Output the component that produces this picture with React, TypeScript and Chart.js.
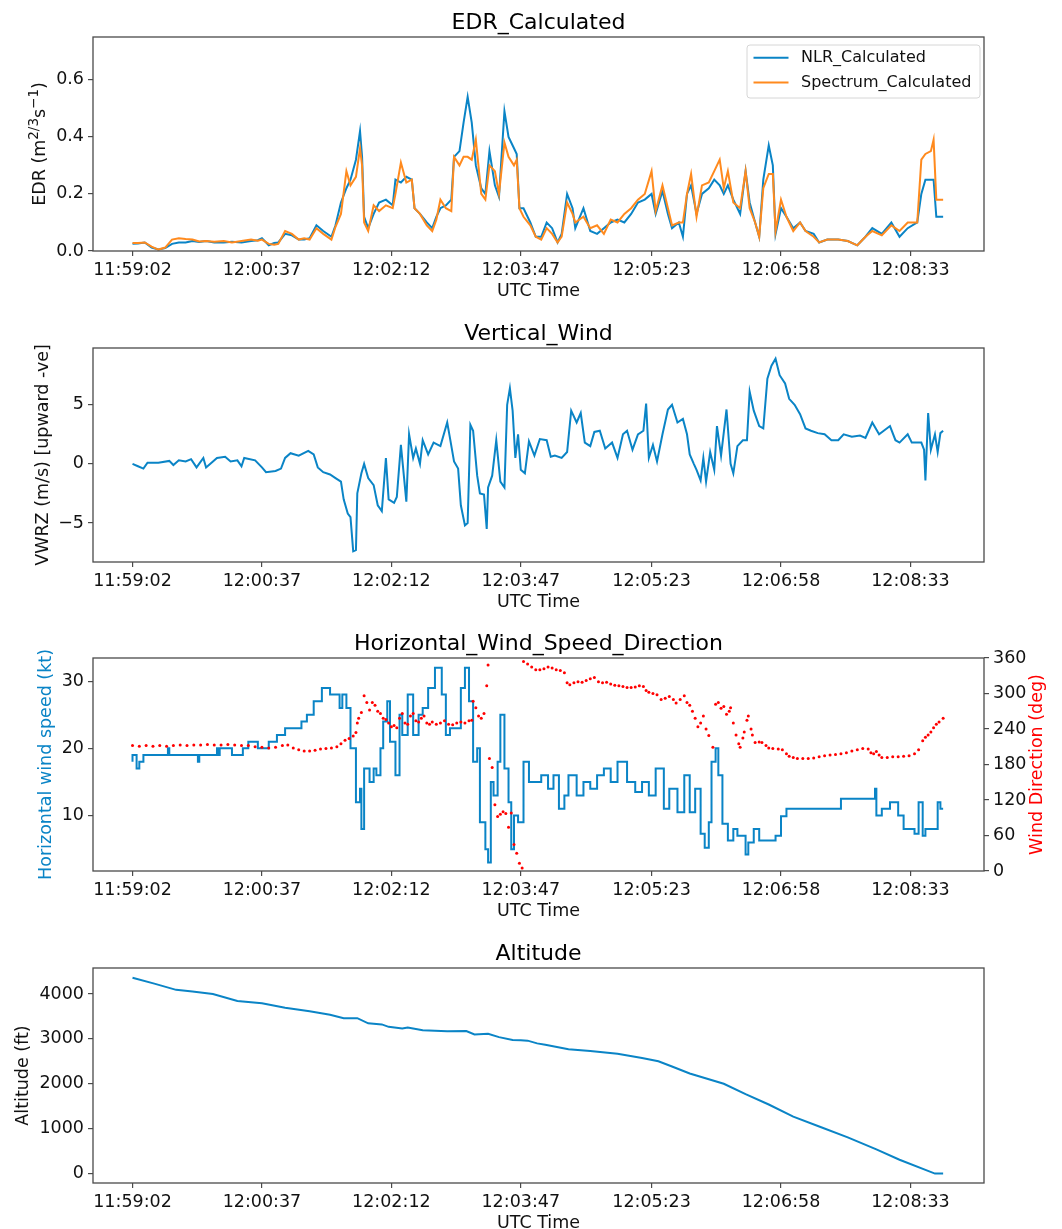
import React, { useEffect, useRef } from "react";
import { Chart, ChartConfiguration, registerables } from "chart.js";
Chart.register(...registerables);

// x axis: seconds after 11:59:02
const tickSeconds = [0, 95, 190, 285, 381, 476, 571];
const tickLabels = ["11:59:02", "12:00:37", "12:02:12", "12:03:47", "12:05:23", "12:06:58", "12:08:33"];

// EDR_Calculated
const edrTime = [
  0, 4, 9, 14, 19, 24, 29, 34, 39, 44, 49, 54, 60, 67, 73, 80, 87, 92, 95, 100, 104, 107, 112, 117, 122, 126, 130,
  135, 140, 146, 149, 153, 157, 160, 164, 167, 168.5, 170, 173, 177, 181, 186, 191, 193, 197, 201, 205, 207, 211,
  216, 220, 223, 226, 230, 234, 236, 240, 243, 246, 249, 252, 256, 259, 262, 266, 269, 273, 276, 280, 282, 284,
  287, 292, 296, 300, 304, 308, 312, 315, 319, 323, 325, 331, 336, 341, 346, 351, 356, 361, 366, 371, 376, 381,
  384, 389, 393, 396, 401, 404, 407, 410, 414, 418, 423, 427, 431, 434, 437, 441, 446, 450, 453, 457, 460, 463,
  467, 470, 472, 476, 480, 485, 490, 494, 500, 504, 510, 518, 525, 532, 538, 543, 550, 557, 563, 569, 576, 579,
  582, 586, 588, 590, 595,
];
const edrNlr = [
  0.025, 0.026, 0.03, 0.012, 0.005, 0.01, 0.025, 0.03, 0.03, 0.035, 0.032, 0.035, 0.03, 0.03, 0.032, 0.03, 0.035,
  0.038, 0.045, 0.02, 0.028, 0.03, 0.06, 0.055, 0.04, 0.04, 0.045, 0.09, 0.07, 0.05, 0.09, 0.17, 0.22, 0.25, 0.32,
  0.42, 0.33, 0.12, 0.08, 0.13, 0.17, 0.18, 0.16, 0.25, 0.24, 0.26, 0.25, 0.15, 0.13, 0.1, 0.08, 0.12, 0.15, 0.16,
  0.18, 0.33, 0.35, 0.45, 0.54, 0.45, 0.3, 0.22, 0.2, 0.35, 0.23, 0.19, 0.49, 0.4, 0.36, 0.34, 0.15, 0.15, 0.1,
  0.05, 0.05, 0.1, 0.08, 0.03, 0.06, 0.2, 0.15, 0.08, 0.15, 0.07, 0.06, 0.08, 0.1, 0.11, 0.1, 0.13, 0.17, 0.18,
  0.2, 0.13, 0.21, 0.13, 0.08, 0.1, 0.05, 0.2, 0.23, 0.13, 0.2, 0.22, 0.25, 0.23, 0.2, 0.23, 0.18, 0.13, 0.28,
  0.17, 0.1, 0.05, 0.25, 0.37, 0.3, 0.06, 0.15, 0.12, 0.08, 0.1, 0.07, 0.06, 0.03, 0.04, 0.04, 0.035, 0.02, 0.05,
  0.08, 0.06, 0.1, 0.05, 0.08, 0.1, 0.2, 0.25, 0.25, 0.25, 0.12, 0.12,
];
const edrSpectrum = [
  0.028, 0.028, 0.03, 0.015, 0.005, 0.012, 0.04, 0.045, 0.042, 0.04, 0.033, 0.035, 0.032, 0.035, 0.03, 0.035,
  0.04, 0.036, 0.04, 0.025, 0.022, 0.025, 0.07, 0.06, 0.04, 0.045, 0.04, 0.08, 0.06, 0.04, 0.085, 0.13, 0.28,
  0.23, 0.26, 0.36, 0.3, 0.1, 0.07, 0.16, 0.14, 0.16, 0.15, 0.2, 0.31, 0.24, 0.25, 0.15, 0.13, 0.09, 0.07, 0.11,
  0.18, 0.15, 0.14, 0.33, 0.3, 0.33, 0.33, 0.32, 0.39, 0.2, 0.18, 0.3, 0.28, 0.2, 0.38, 0.33, 0.3, 0.32, 0.15,
  0.12, 0.09, 0.05, 0.04, 0.08, 0.06, 0.03, 0.05, 0.17, 0.13, 0.1, 0.12, 0.08, 0.09, 0.06, 0.11, 0.1, 0.13, 0.15,
  0.18, 0.2, 0.28, 0.14, 0.23, 0.15, 0.09, 0.1, 0.1, 0.2, 0.27, 0.12, 0.23, 0.24, 0.28, 0.32, 0.22, 0.28, 0.17,
  0.15, 0.28, 0.15, 0.1, 0.05, 0.22, 0.27, 0.27, 0.07, 0.18, 0.12, 0.07, 0.1, 0.07, 0.05, 0.03, 0.04, 0.04, 0.035,
  0.02, 0.05, 0.07, 0.055, 0.09, 0.07, 0.1, 0.1, 0.32, 0.34, 0.35, 0.39, 0.18, 0.18,
];

// Vertical_Wind
const vwTime = [
  0, 4, 8, 11, 19, 27, 30, 34, 39, 43, 47, 52, 54, 62, 68, 72, 77, 80, 82, 90, 95, 98, 105, 109, 112, 116, 122,
  129, 133, 136, 140, 145, 149, 153, 155, 158, 160, 162, 164, 165, 168, 170, 173, 177, 180, 183, 186, 188, 192,
  194, 197, 201, 203, 206, 208, 211, 213, 217, 221, 226, 231, 233, 236, 239, 241, 244, 246, 248, 250, 253, 255,
  258, 260, 261, 264, 267, 270, 273, 275, 277, 279, 281, 283, 285, 288, 291, 295, 299, 304, 307, 310, 315, 319,
  322, 326, 329, 332, 336, 339, 343, 347, 352, 356, 360, 363, 367, 371, 375, 377, 379, 382, 385, 389, 393, 396,
  400, 404, 407, 409, 412, 414, 417, 419, 421, 424, 427, 429, 432, 436, 439, 441, 444, 448, 451, 453, 456, 460,
  463, 466, 469, 472, 475, 479, 482, 486, 490, 494, 498, 503, 508, 513, 518, 522, 528, 534, 538, 543, 548, 556,
  560, 563, 569, 572, 579, 581, 582, 584, 586, 589, 591, 593, 595,
];
const vwValue = [
  0, -0.2, -0.4, 0.1, 0.1, 0.25, -0.1, 0.3, 0.2, 0.4, -0.3, 0.5, -0.3, 0.5, 0.6, 0.2, 0.3, -0.2, 0.5, 0.3, -0.3,
  -0.7, -0.6, -0.4, 0.5, 0.9, 0.7, 1.1, 0.8, -0.3, -0.7, -0.9, -1.2, -1.5, -3.0, -4.2, -4.5, -7.4, -7.3, -2.5,
  -0.8, 0, -1.2, -1.8, -3.5, -4.0, 0.5, -3.0, -3.3, -2.8, 1.6, -3.2, 2.5, 0.5, 1.3, 0, 2.0, 0.8, 1.8, 1.5, 3.5,
  2.2, 0.2, -0.4, -3.5, -5.2, -5.0, 3.3, 2.8, -1.0, -2.5, -2.6, -5.5, -2.0, -1.0, 2.0, -1.5, -2.0, 5.0, 6.4, 4.5,
  0.5, 2.5, -0.5, -0.8, 1.9, 0.7, 2.1, 2.0, 0.6, 0.7, 0.5, 1.0, 4.5, 3.5, 4.3, 1.8, 1.5, 2.7, 2.8, 1.3, 1.8, 0.5,
  2.5, 2.8, 1.2, 2.5, 2.8, 5.1, 0.5, 1.6, 0.2, 2.5, 4.6, 5.0, 3.5, 3.8, 2.5, 0.8, 0, -0.5, -1.4, 0.5, -1.5, 1.0,
  -0.5, 3.2, 0.7, 4.6, 0, -0.8, 1.5, 2.0, 2.0, 6.1, 4.5, 3.2, 3.0, 7.2, 8.3, 8.9, 7.5, 6.8, 5.5, 5.0, 4.2, 3.0,
  2.8, 2.6, 2.5, 2.0, 2.0, 2.5, 2.3, 2.4, 2.2, 3.5, 2.5, 3.2, 2.0, 1.8, 2.5, 1.8, 1.8, 1.2, -1.4, 4.3, 1.2, 2.5,
  1.0, 2.6, 2.8,
];

// Horizontal_Wind_Speed_Direction: speed (kt)
const speedTime = [
  0, 3, 5, 8, 10, 26, 27, 28, 34, 48, 49, 52, 62, 63, 64, 73, 81, 85, 92, 100, 106, 112, 124, 128, 133, 139, 145,
  152, 154, 157, 160, 164, 167, 168, 170, 174, 177, 179, 182, 184, 187, 189, 193, 196, 198, 202, 206, 210, 213,
  217, 222, 227, 230, 233, 237, 241, 244, 247, 250, 253, 255, 259, 261, 263, 265, 268, 270, 273, 276, 278, 280,
  283, 287, 291, 295, 300, 305, 309, 313, 317, 320, 326, 331, 336, 341, 346, 351, 356, 363, 369, 374, 379, 384,
  386, 390, 394, 400, 405, 409, 413, 417, 420, 423, 425, 428, 430, 433, 437, 441, 444, 450, 452, 456, 460, 465,
  472, 476, 480, 485, 505, 520, 523, 545, 546, 550, 556, 562, 566, 574, 577, 580, 582, 587, 591, 593, 595,
];
const speedKt = [
  18, 19, 17, 18, 19, 19, 20, 19, 19, 19, 18, 19, 19, 20, 19, 20, 19, 20, 21, 20, 21, 22, 23, 24, 25, 27, 29, 28,
  26, 28, 26, 20, 12, 14, 8, 17, 15, 17, 16, 20, 24, 27, 21, 16, 25, 22, 28, 22, 25, 26, 29, 32, 28, 22, 23, 23,
  29, 32, 27, 18, 20, 9, 5, 3, 15, 13, 18, 25, 17, 12, 5, 10, 9, 18, 15, 15, 16, 14, 16, 11, 13, 16, 13, 15, 14,
  16, 17, 15, 18, 15, 13.5, 15, 13, 17, 17, 11, 14, 10.5, 16, 10.5, 14, 7.3, 5.2, 9, 18, 20, 16, 8.8, 6.3, 8, 7,
  4.2, 6, 8, 6.3, 6.3, 7, 9.9, 11, 11, 11, 12.5, 12.5, 14, 10, 11, 12, 10, 8, 7.3, 12, 7, 8, 8, 12, 11,
];

// Horizontal_Wind_Speed_Direction: direction (deg)
const dirTime = [
  0, 5, 10, 15, 20, 25, 30, 35, 40, 45, 50, 55, 60, 65, 70, 75, 80, 85, 90, 95, 100, 105, 110, 114, 118, 122, 126,
  130, 134, 138, 142, 146, 150, 153, 156, 159, 162, 164, 165, 166, 168, 170, 172, 174, 176, 178, 180, 182, 184,
  186, 188, 190, 192, 194, 196, 198, 200, 202, 204, 206, 208, 210, 212, 214, 216, 218, 220, 223, 226, 229, 232,
  235, 238, 241, 244, 247, 249, 250, 252, 254, 256, 258, 260, 261, 262, 264, 266, 268, 270, 272, 274, 276, 278,
  280, 282, 284, 286, 287, 290, 293, 296, 299, 302, 305, 308, 311, 314, 317, 319, 321, 324, 327, 330, 333, 336,
  339, 342, 345, 348, 351, 354, 357, 360, 363, 366, 369, 372, 375, 377, 379, 382, 385, 388, 391, 394, 397, 399,
  402, 405, 407, 409, 411, 413, 415, 417, 419, 421, 423, 426, 428, 430, 432, 434, 436, 438, 439, 441, 443, 445,
  446, 448, 449, 451, 452, 454, 455, 457, 460, 462, 465, 467, 470, 474, 477, 480, 482, 485, 488, 492, 496, 500,
  504, 508, 512, 516, 520, 524, 528, 532, 536, 540, 542, 544, 546, 548, 550, 554, 558, 562, 566, 570, 574, 577,
  580, 582, 584, 586, 588, 590, 592, 595,
];
const dirDeg = [
  212, 211, 212, 211, 212, 211, 212, 213, 212, 213, 213, 214, 213, 213, 214, 213, 212, 212, 210, 209, 208, 209,
  212, 213, 208, 205, 203, 203, 204, 206, 207, 208, 210, 215, 221, 224, 228, 234, 250, 258, 268, 296, 285, 272,
  285, 280, 270, 266, 258, 256, 250, 244, 246, 242, 258, 266, 250, 248, 262, 266, 254, 252, 258, 262, 250, 248,
  252, 248, 250, 254, 248, 247, 250, 252, 250, 254, 255, 287, 276, 262, 258, 266, 313, 348, 190, 175, 112, 92, 96,
  100, 97, 74, 98, 45, 30, 13, 5, 354, 350, 345, 340, 340, 342, 345, 343, 340, 339, 335, 318, 315, 318, 320, 319,
  322, 325, 327, 320, 318, 319, 316, 314, 313, 312, 310, 310, 311, 313, 312, 305, 302, 300, 298, 290, 292, 295,
  290, 284, 290, 296, 285, 280, 270, 258, 244, 250, 262, 240, 229, 209, 282, 285, 275, 278, 265, 270, 276, 250,
  230, 215, 209, 225, 235, 255, 262, 240, 230, 217, 218, 217, 212, 208, 207, 206, 205, 198, 194, 192, 190, 190,
  190, 191, 193, 195, 196, 197, 198, 200, 203, 205, 207, 206, 200, 198, 202, 196, 192, 192, 193, 193, 194, 195,
  198, 205, 220, 226, 230, 235, 242, 248, 252, 258,
];

// Altitude (ft)
const altTime = [
  0, 16, 32, 44, 59, 77, 95, 112, 130, 145, 155, 165, 173, 183, 188, 198, 202, 213, 231, 245, 251, 261, 269, 279,
  285, 290, 297, 303, 320, 336, 356, 374, 386, 396, 409, 434, 450, 467, 485, 505, 525, 546, 563, 589, 595,
];
const altFt = [
  4360, 4230, 4091, 4053, 3999, 3845, 3791, 3691, 3614, 3537, 3460, 3460, 3345, 3322, 3268, 3230, 3253, 3191, 3168,
  3176, 3099, 3114, 3038, 2976, 2970, 2960, 2899, 2868, 2768, 2730, 2668, 2576, 2500, 2384, 2230, 2000, 1769,
  1538, 1269, 1038, 807, 538, 308, 0, 0,
];

const FONT = "'DejaVu Sans', sans-serif";
const BLUE = "#0a84c6";
const ORANGE = "#ff8a1e";
const RED = "#ff0000";
const TEXT = "#111111";
const FRAME = "#4a4a4a";
const X_MIN = -29;
const X_MAX = 625;
const LEFT_W = 93;
const RIGHT_W = 78;
const XAXIS_H = 51;
const TICK_FONT = { family: FONT, size: 17.5 };

const pts = (t: number[], v: number[]) => t.map((x, i) => ({ x, y: v[i] }));

const framePlugin = {
  id: "frame",
  afterDatasetsDraw(chart: any) {
    const { ctx, chartArea: a } = chart;
    ctx.save();
    ctx.strokeStyle = FRAME;
    ctx.lineWidth = 1.3;
    ctx.strokeRect(a.left, a.top, a.right - a.left, a.bottom - a.top);
    ctx.restore();
  },
};

// rotated axis title (reads bottom to top), with optional superscripts
type Piece = { t: string; sup?: boolean };
const sideTitle = (pieces: Piece[], x: number, color: string) => ({
  id: "sideTitle",
  afterDraw(chart: any) {
    const { ctx, chartArea: a } = chart;
    const big = `17.5px ${FONT}`;
    const small = `13.5px ${FONT}`;
    ctx.save();
    ctx.fillStyle = color;
    ctx.textBaseline = "middle";
    ctx.textAlign = "left";
    let total = 0;
    for (const p of pieces) {
      ctx.font = p.sup ? small : big;
      total += ctx.measureText(p.t).width;
    }
    ctx.translate(x, (a.top + a.bottom) / 2);
    ctx.rotate(-Math.PI / 2);
    let cx = -total / 2;
    for (const p of pieces) {
      ctx.font = p.sup ? small : big;
      ctx.fillText(p.t, cx, p.sup ? -6 : 0);
      cx += ctx.measureText(p.t).width;
    }
    ctx.restore();
  },
});

const legendBox = {
  id: "legendBox",
  afterDraw(chart: any) {
    const { ctx, chartArea: a } = chart;
    const w = 233;
    const h = 53;
    const x = a.right - 4 - w;
    const y = a.top + 8;
    ctx.save();
    ctx.beginPath();
    ctx.roundRect(x, y, w, h, 3);
    ctx.fillStyle = "rgba(255,255,255,0.8)";
    ctx.fill();
    ctx.strokeStyle = "#d6d6d6";
    ctx.lineWidth = 1;
    ctx.stroke();
    ctx.font = `16px ${FONT}`;
    ctx.textBaseline = "middle";
    ctx.textAlign = "left";
    chart.data.datasets.forEach((ds: any, i: number) => {
      const ly = y + 12.7 + i * 24.8;
      ctx.strokeStyle = ds.borderColor;
      ctx.lineWidth = 2;
      ctx.beginPath();
      ctx.moveTo(x + 6.5, ly);
      ctx.lineTo(x + 41.5, ly);
      ctx.stroke();
      ctx.fillStyle = TEXT;
      ctx.fillText(ds.label, x + 54, ly);
    });
    ctx.restore();
  },
};

const xAxis = () => ({
  type: "linear" as const,
  min: X_MIN,
  max: X_MAX,
  afterBuildTicks: (s: any) => {
    s.ticks = tickSeconds.map((value) => ({ value }));
  },
  afterFit: (s: any) => {
    s.height = XAXIS_H;
  },
  ticks: {
    font: TICK_FONT,
    color: TEXT,
    padding: 4,
    maxRotation: 0,
    autoSkip: false,
    callback: (_v: any, i: number) => tickLabels[i],
  },
  grid: { drawOnChartArea: false, drawTicks: true, tickLength: 5, tickColor: FRAME, lineWidth: 1.2 },
  border: { display: false },
  title: { display: true, text: "UTC Time", font: TICK_FONT, color: TEXT, padding: { top: 0, bottom: 0 } },
});

const yAxis = (
  min: number,
  max: number,
  ticks: number[],
  fmt: (v: number) => string,
  position: "left" | "right",
  title: any = { display: false }
) => ({
  type: "linear" as const,
  position,
  min,
  max,
  afterBuildTicks: (s: any) => {
    s.ticks = ticks.map((value) => ({ value }));
  },
  afterFit: (s: any) => {
    s.width = position === "left" ? LEFT_W : RIGHT_W;
  },
  ticks: { font: TICK_FONT, color: TEXT, padding: 4, callback: (v: any) => fmt(Number(v)) },
  grid: { drawOnChartArea: false, drawTicks: true, tickLength: 5, tickColor: FRAME, lineWidth: 1.2 },
  border: { display: false },
  title,
});

const yTitle = (text: string, x: number, color = TEXT) => ({
  display: true,
  text,
  color,
  font: TICK_FONT,
  padding: { top: x - 10.5, bottom: 0 },
});

const chartTitle = (text: string) => ({
  display: true,
  text,
  fullSize: false,
  color: "#000",
  font: { family: FONT, size: 22, weight: "normal" as const },
  padding: { top: 10, bottom: 0.6 },
});

const minus = (v: number) => (v < 0 ? "\u2212" + Math.abs(v) : String(v));

const lineDs = (label: string, t: number[], v: number[], color: string, extra: any = {}) => ({
  label,
  data: pts(t, v),
  borderColor: color,
  backgroundColor: color,
  borderWidth: 2,
  pointRadius: 0,
  tension: 0,
  ...extra,
});

const baseOptions = (title: string, rightPad: number) => ({
  animation: false as const,
  responsive: true,
  maintainAspectRatio: false,
  layout: { padding: { left: 0, right: rightPad, top: 0, bottom: 0 } },
  plugins: { legend: { display: false }, tooltip: { enabled: false }, title: chartTitle(title) },
});

const edrConfig = (): ChartConfiguration => ({
  type: "line",
  data: {
    datasets: [
      lineDs("NLR_Calculated", edrTime, edrNlr, BLUE, { order: 1 }),
      lineDs("Spectrum_Calculated", edrTime, edrSpectrum, ORANGE, { order: 0 }),
    ] as any,
  },
  options: {
    ...baseOptions("EDR_Calculated", RIGHT_W),
    scales: {
      x: xAxis(),
      y: yAxis(0, 0.75, [0, 0.2, 0.4, 0.6], (v) => v.toFixed(1), "left"),
    },
  } as any,
  plugins: [
    framePlugin,
    legendBox,
    sideTitle(
      [{ t: "EDR (m" }, { t: "2/3", sup: true }, { t: "s" }, { t: "\u22121", sup: true }, { t: ")" }],
      40,
      TEXT
    ),
  ],
});

const vwConfig = (): ChartConfiguration => ({
  type: "line",
  data: { datasets: [lineDs("VWRZ", vwTime, vwValue, BLUE)] as any },
  options: {
    ...baseOptions("Vertical_Wind", RIGHT_W),
    scales: {
      x: xAxis(),
      y: yAxis(-8.3, 9.8, [-5, 0, 5], minus, "left", yTitle("VWRZ (m/s) [upward -ve]", 43)),
    },
  } as any,
  plugins: [framePlugin],
});

const windConfig = (): ChartConfiguration => ({
  type: "line",
  data: {
    datasets: [
      lineDs("Horizontal wind speed", speedTime, speedKt, BLUE, { yAxisID: "y", order: 1, stepped: "after" }),
      {
        label: "Wind Direction",
        data: pts(dirTime, dirDeg),
        yAxisID: "y1",
        showLine: false,
        pointRadius: 1.5,
        pointBorderWidth: 0,
        pointBackgroundColor: RED,
        borderColor: RED,
        order: 0,
      },
    ] as any,
  },
  options: {
    ...baseOptions("Horizontal_Wind_Speed_Direction", 0),
    scales: {
      x: xAxis(),
      y: yAxis(1.75, 33.45, [10, 20, 30], String, "left", yTitle("Horizontal wind speed (kt)", 46.5, BLUE)),
      y1: yAxis(0, 360, [0, 60, 120, 180, 240, 300, 360], String, "right"),
    },
  } as any,
  plugins: [framePlugin, sideTitle([{ t: "Wind Direction (deg)" }], 1037, RED)],
});

const altConfig = (): ChartConfiguration => ({
  type: "line",
  data: { datasets: [lineDs("Altitude", altTime, altFt, BLUE)] as any },
  options: {
    ...baseOptions("Altitude", RIGHT_W),
    scales: {
      x: xAxis(),
      y: yAxis(-210, 4578, [0, 1000, 2000, 3000, 4000], String, "left", yTitle("Altitude (ft)", 23.5)),
    },
  } as any,
  plugins: [framePlugin],
});

const Panel: React.FC<{ top: number; height: number; build: () => ChartConfiguration }> = ({ top, height, build }) => {
  const ref = useRef<HTMLCanvasElement>(null);

  useEffect(() => {
    if (!ref.current) return;
    const chart = new Chart(ref.current, build());
    return () => {
      chart.destroy();
    };
  }, [build]);

  return (
    <div style={{ position: "absolute", left: 0, top, width: 1062, height }}>
      <canvas ref={ref} />
    </div>
  );
};

export default function App() {
  useEffect(() => {
    document.body.style.margin = "0";
    document.body.style.overflow = "hidden";
  }, []);

  return (
    <div style={{ position: "relative", width: 1062, height: 1229, background: "#fff", overflow: "hidden" }}>
      <Panel top={0} height={302} build={edrConfig} />
      <Panel top={311} height={302} build={vwConfig} />
      <Panel top={621} height={301} build={windConfig} />
      <Panel top={931} height={303} build={altConfig} />
    </div>
  );
}
